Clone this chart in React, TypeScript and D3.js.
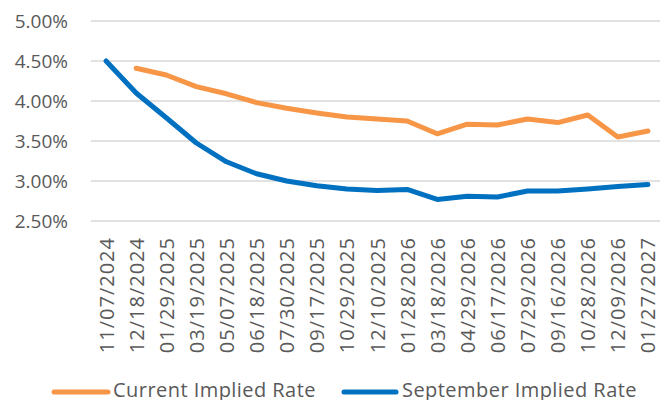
import React from "react";
import * as d3 from "d3";

const dates = [
  "11/07/2024", "12/18/2024", "01/29/2025", "03/19/2025", "05/07/2025", "06/18/2025",
  "07/30/2025", "09/17/2025", "10/29/2025", "12/10/2025", "01/28/2026", "03/18/2026",
  "04/29/2026", "06/17/2026", "07/29/2026", "09/16/2026", "10/28/2026", "12/09/2026", "01/27/2027",
];
const currentRate: (number | null)[] = [
  null, 4.41, 4.325, 4.18, 4.09, 3.98, 3.91, 3.85, 3.8, 3.775, 3.75, 3.59,
  3.71, 3.7, 3.775, 3.73, 3.825, 3.55, 3.625,
];
const septemberRate: number[] = [
  4.5, 4.1, 3.79, 3.475, 3.24, 3.09, 3.0, 2.94, 2.9, 2.88, 2.895, 2.77,
  2.81, 2.8, 2.875, 2.875, 2.9, 2.93, 2.955,
];
const yTicks = [2.5, 3.0, 3.5, 4.0, 4.5, 5.0];
const seriesNames = ["Current Implied Rate", "September Implied Rate"];
const colors = ["#F79646", "#0070C0"];

export default function App() {
  const W = 660, H = 400;
  const left = 91, right = 663, top = 21, bottom = 221;
  const x = d3.scalePoint<string>().domain(dates).range([left, right]).padding(0.5);
  const y = d3.scaleLinear().domain([2.5, 5]).range([bottom, top]);
  const font = "'Open Sans', sans-serif";
  const textColor = "#595959";

  const line = d3
    .line<number | null>()
    .defined((d) => d !== null)
    .x((_, i) => x(dates[i]) as number)
    .y((d) => y(d as number));

  return (
    <svg
      width={W}
      height={H}
      style={{ position: "absolute", left: 0, top: 0, background: "#fff" }}
      fontFamily={font}
    >
      {yTicks.map((t) => (
        <g key={t}>
          <line x1={left} x2={660} y1={y(t)} y2={y(t)} stroke="#D9D9D9" strokeWidth={1.5} />
          <text
            x={68}
            y={y(t)}
            textAnchor="end"
            dominantBaseline="central"
            fontSize={19}
            fill={textColor}
          >
            {t.toFixed(2)}%
          </text>
        </g>
      ))}
      {dates.map((d) => (
        <text
          key={d}
          transform={`translate(${x(d)},${237}) rotate(-90)`}
          textAnchor="end"
          dominantBaseline="central"
          fontSize={20}
          letterSpacing={1}
          fill={textColor}
        >
          {d}
        </text>
      ))}
      <path
        d={line(currentRate) || ""}
        fill="none"
        stroke={colors[0]}
        strokeWidth={5}
        strokeLinejoin="round"
        strokeLinecap="round"
      />
      <path
        d={line(septemberRate) || ""}
        fill="none"
        stroke={colors[1]}
        strokeWidth={5}
        strokeLinejoin="round"
        strokeLinecap="round"
      />
      {/* legend */}
      <line x1={54} x2={108} y1={392} y2={392} stroke={colors[0]} strokeWidth={5} strokeLinecap="round" />
      <text x={113} y={397} fontSize={20} letterSpacing={0.45} fill={textColor}>
        {seriesNames[0]}
      </text>
      <line x1={344} x2={396} y1={392} y2={392} stroke={colors[1]} strokeWidth={5} strokeLinecap="round" />
      <text x={402} y={397} fontSize={20} letterSpacing={0.45} fill={textColor}>
        {seriesNames[1]}
      </text>
    </svg>
  );
}
